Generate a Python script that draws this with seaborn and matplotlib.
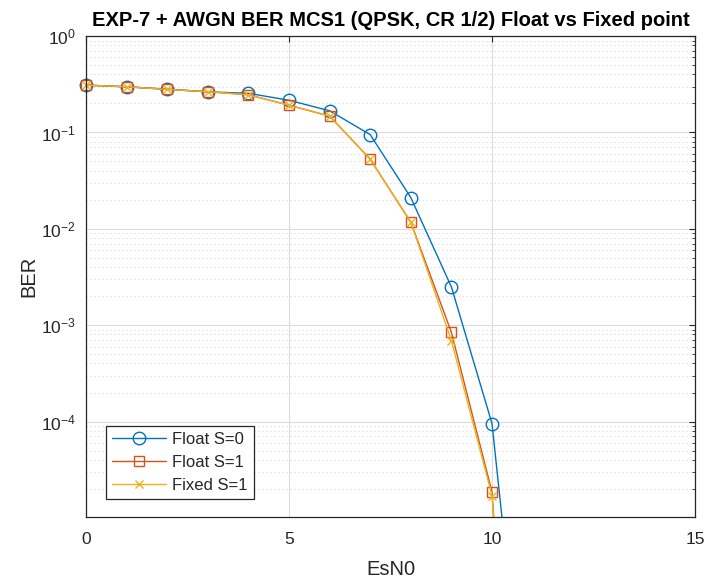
import numpy as np
import pandas as pd
import matplotlib
matplotlib.use("Agg")
import matplotlib.pyplot as plt
import seaborn as sns
from matplotlib.ticker import LogLocator, NullFormatter, FixedLocator

sns.set_style("whitegrid")
plt.rcParams['font.family'] = ['Liberation Sans', 'DejaVu Sans']

# EsN0 points and BER
esn0 = [0, 1, 2, 3, 4, 5, 6, 7, 8, 9, 10, 11]
ber_float_s0 = [0.31, 0.298, 0.282, 0.264, 0.255, 0.216, 0.168, 0.095, 0.0211, 0.00249, 9.5e-5, 1.0e-8]
ber_float_s1 = [0.31, 0.298, 0.28, 0.265, 0.246, 0.192, 0.148, 0.0528, 0.0117, 8.4e-4, 1.85e-5, 1.0e-11]
ber_fixed_s1 = [0.31, 0.298, 0.28, 0.265, 0.246, 0.192, 0.148, 0.0528, 0.0117, 6.9e-4, 1.7e-5, 1.0e-11]

series = ['Float S=0', 'Float S=1', 'Fixed S=1']
colors = ['#0072BD', '#D95319', '#EDB120']
markers = ['o', 's', 'x']
msizes = [9, 6.5, 6]

ymin = 1.02e-5

df = pd.DataFrame({
    'EsN0': esn0 * 3,
    'BER': ber_float_s0 + ber_float_s1 + ber_fixed_s1,
    'series': [s for s in series for _ in esn0],
})

fig = plt.figure(figsize=(7.1, 5.78), dpi=100)
ax = fig.add_axes([0.121, 0.1055, 0.858, 0.832])

for s, c, m, ms in zip(series, colors, markers, msizes):
    d = df[df['series'] == s]
    # line (clipped to the axes)
    sns.lineplot(data=d, x='EsN0', y='BER', color=c, linewidth=1.0, ax=ax)
    # markers, not clipped so the ones on the edge show whole
    dm = d[d['BER'] >= ymin]
    sns.lineplot(data=dm, x='EsN0', y='BER', color=c, linestyle='none', marker=m,
                 markersize=ms, markerfacecolor='none', markeredgecolor=c,
                 markeredgewidth=1.0, clip_on=False, ax=ax)

# legend handles
handles = [plt.Line2D([], [], color=c, marker=m, markersize=ms, markerfacecolor='none',
                      markeredgecolor=c, markeredgewidth=1.0, linewidth=1.0)
           for c, m, ms in zip(colors, markers, msizes)]

ax.set_yscale('log')
ax.set_xlim(0, 15)
ax.set_ylim(ymin, 1)
ax.set_xticks([0, 5, 10, 15])
ax.yaxis.set_major_locator(FixedLocator([1e-4, 1e-3, 1e-2, 1e-1, 1]))
ax.yaxis.set_minor_locator(LogLocator(base=10, subs=np.arange(2, 10), numticks=20))
ax.yaxis.set_minor_formatter(NullFormatter())

ax.grid(True, which='major', color='#dcdcdc', linewidth=0.8, linestyle='-')
ax.grid(True, which='minor', axis='y', color='#dedede', linewidth=0.8, linestyle=(0, (1.2, 2.4)))
ax.set_axisbelow(True)

for sp in ax.spines.values():
    sp.set_color('#262626')
    sp.set_linewidth(0.9)
ax.tick_params(which='both', direction='in', top=True, right=True, colors='#262626', labelsize=12.5)
ax.tick_params(which='major', length=4)
ax.tick_params(which='minor', length=2.5)
ax.tick_params(axis='x', which='major', pad=11)
ax.tick_params(axis='y', which='major', pad=7)

ax.set_xlabel('EsN0', fontsize=14.5, color='#262626', labelpad=9)
ax.set_ylabel('BER', fontsize=14.5, color='#262626', labelpad=2)
ax.set_title('EXP-7 + AWGN BER MCS1 (QPSK, CR 1/2) Float vs Fixed point',
             fontsize=14.5, fontweight='bold', color='black', pad=7)

leg = ax.legend(handles, series, loc='lower left', bbox_to_anchor=(0.02, 0.02), fontsize=12,
                frameon=True, fancybox=False, edgecolor='#262626', framealpha=1,
                handlelength=3.2, borderpad=0.35, labelspacing=0.5, handletextpad=0.4)
leg.get_frame().set_linewidth(0.9)

fig.savefig('out.png', dpi=100)
